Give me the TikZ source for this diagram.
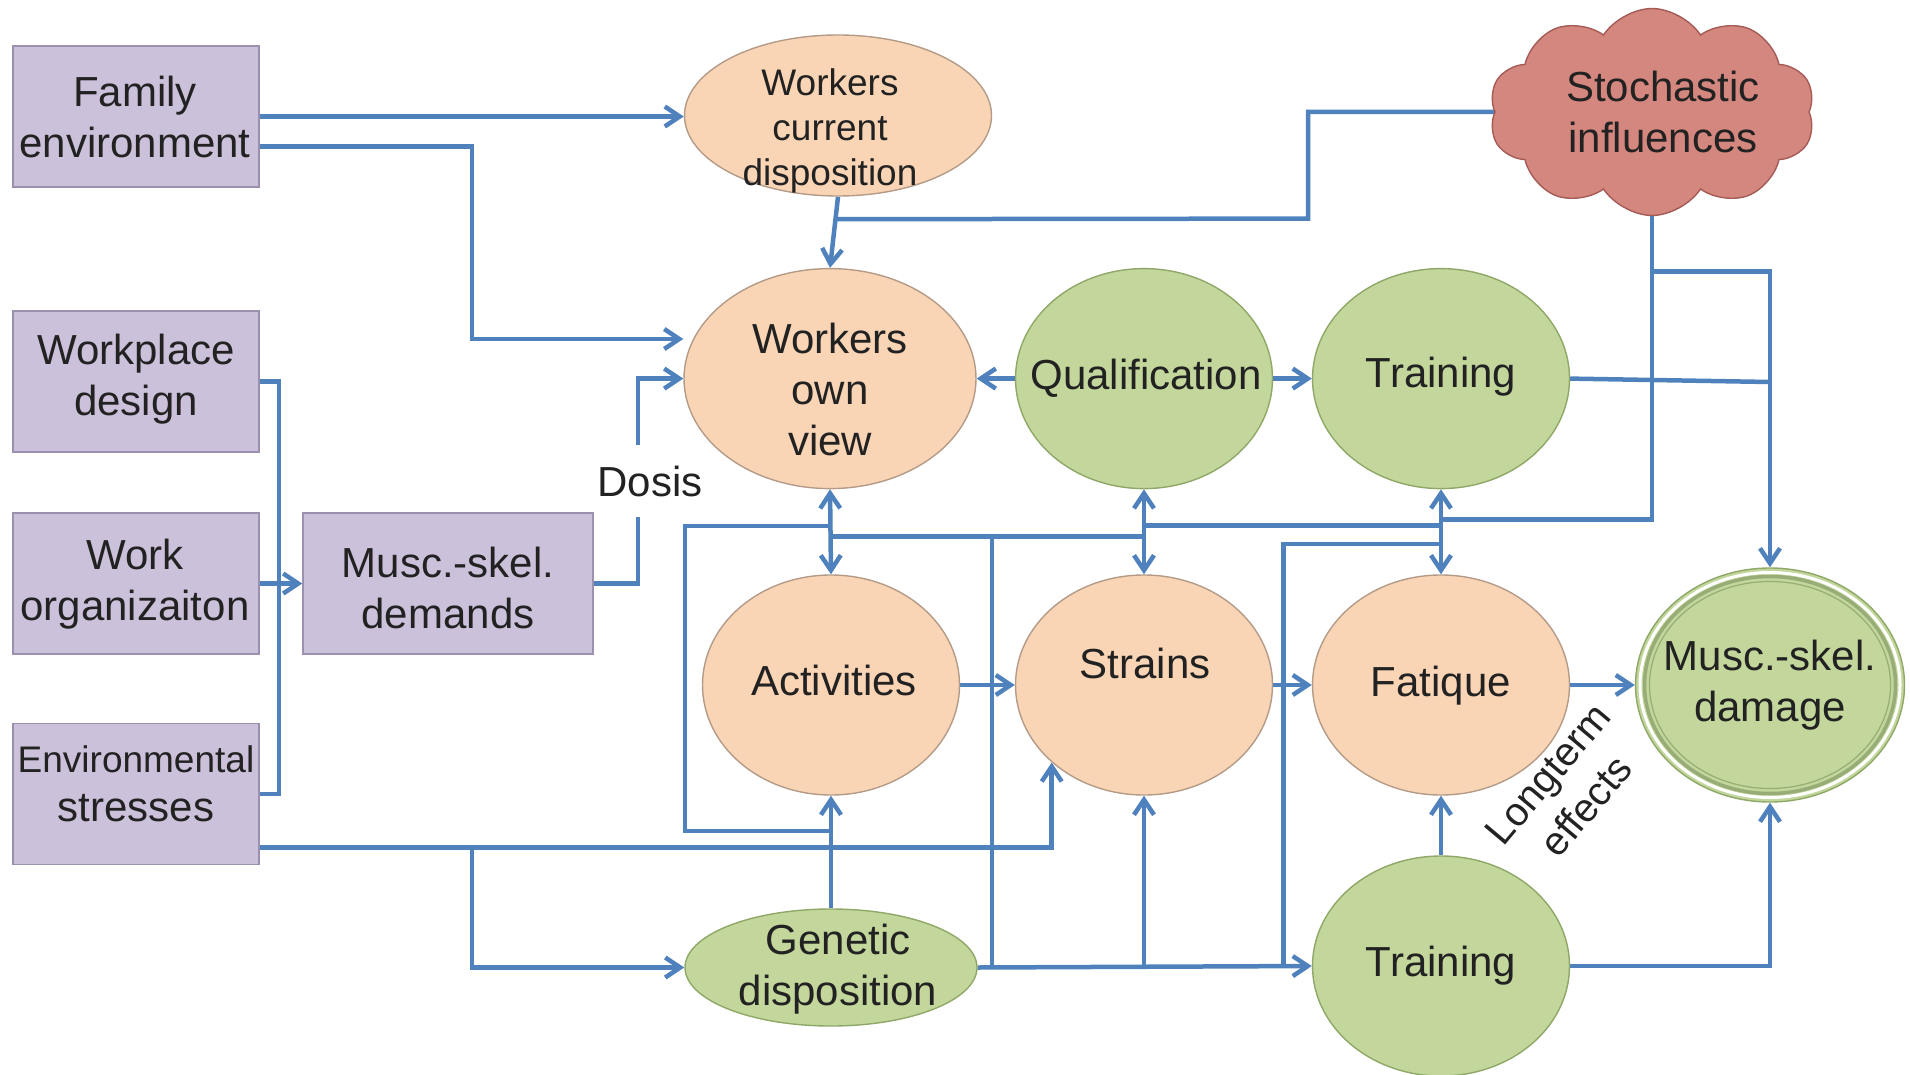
\documentclass[tikz,border=0pt]{standalone}
\usepackage{fontspec}
\setmainfont{Liberation Sans}
\usetikzlibrary{shapes.geometric,shapes.symbols,arrows.meta,calc}
\definecolor{boxfill}{HTML}{CCC1DA}
\definecolor{boxline}{HTML}{9B90AE}
\definecolor{peachfill}{HTML}{F9D5B6}
\definecolor{peachline}{HTML}{B49B87}
\definecolor{grnfill}{HTML}{C3D69B}
\definecolor{grnline}{HTML}{8FA868}
\definecolor{grnring}{HTML}{97AC76}
\definecolor{cloudfill}{HTML}{D4877E}
\definecolor{cloudline}{HTML}{A45B56}
\definecolor{wirec}{HTML}{4F81BD}
\definecolor{txtc}{HTML}{222222}
\pgfdeclarelayer{bg}
\pgfsetlayers{bg,main}
\newcommand\lblfont{\fontsize{42}{51}\selectfont}
\newcommand\lblsmall{\fontsize{37}{45}\selectfont}
\begin{document}
\begin{tikzpicture}[x=1pt,y=-1pt,
  box/.style={draw=boxline, fill=boxfill, line width=1.5pt, minimum width=246pt, minimum height=141pt, inner sep=0pt},
  ell/.style={ellipse, line width=1.4pt, inner sep=0pt},
  peach/.style={ell, draw=peachline, fill=peachfill},
  grn/.style={ell, draw=grnline, fill=grnfill},
  txt/.style={text=txtc, align=center, inner sep=0pt, font=\lblfont},
  txts/.style={txt, font=\lblsmall},
  wire/.style={draw=wirec, line width=4.5pt},
  arr/.style={wire, -{Straight Barb[length=15pt,width=20pt]}},
  darr/.style={wire, {Straight Barb[length=15pt,width=20pt]}-{Straight Barb[length=15pt,width=20pt]}},
]
\useasboundingbox (0,0) rectangle (1910,1075);
\clip (0,0) rectangle (1910,1075);

% input boxes
\node[box] (fam) at (136,116.5) {};
\node[txt] at (135,117) {Family\\environment};
\node[box] (wpd) at (136,381.5) {};
\node[txt] at (136,379) {Workplace\\design};
\node[box] (wor) at (136,583.5) {};
\node[txt] at (135,584) {Work\\organizaiton};
\node[box] (env) at (136,794) {};
\node[txt, font=\fontsize{42}{49}\selectfont] at (136,784) {{\fontsize{37}{49}\selectfont Environmental}\\stresses};
\node[box, minimum width=290pt] (msd) at (448,583.5) {};
\node[txt] at (448,588) {Musc.-skel.\\demands};

% worker state
\node[peach, minimum width=307pt, minimum height=161pt] (wcd) at (838,115.5) {};
\node[txts] at (830,131) {Workers\\current\\disposition};
\node[peach, minimum width=292pt, minimum height=220pt] (wov) at (830,378.6) {};
\node[txt] at (830,389) {Workers\\own\\view};
\node[grn, minimum width=257pt, minimum height=220pt] (qual) at (1144,378.6) {};
\node[txt] at (1146,378) {Qualification};
\node[grn, minimum width=257pt, minimum height=220pt] (tr1) at (1441,378.6) {};
\node[txt] at (1441,377) {Training};

% load chain
\node[peach, minimum width=257pt, minimum height=220pt] (act) at (831,685) {};
\node[txt] at (834,680) {Activities};
\node[peach, minimum width=257pt, minimum height=220pt] (str) at (1144,685) {};
\node[txt] at (1145,663) {Strains};
\node[peach, minimum width=257pt, minimum height=220pt] (fat) at (1441,685) {};
\node[txt] at (1441,686) {Fatique};

% damage (double ring)
\node[grn, minimum width=269pt, minimum height=234pt] (dam) at (1770,685) {};
\draw[white, line width=3pt] (dam.center) ellipse [x radius=130, y radius=112.5];
\draw[grnring, line width=3.5pt] (dam.center) ellipse [x radius=125.5, y radius=108.5];
\draw[grnring, line width=1.2pt] (dam.center) ellipse [x radius=120.5, y radius=103.5];
\node[txt] at (1770,685) {Musc.-skel.\\damage};

% lower row
\node[grn, minimum width=292pt, minimum height=117pt] (gen) at (831,967.5) {};
\node[txt] at (838,969) {Genetic\\disposition};
\node[grn, minimum width=257pt, minimum height=220pt] (tr2) at (1441,966) {};
\node[txt] at (1441,966) {Training};

% random influences
\node[cloud, cloud puffs=10, cloud puff arc=115, aspect=1.55, draw=cloudline, fill=cloudfill, line width=1.4pt, minimum width=326pt, minimum height=207pt, inner sep=0pt] (sto) at (1652,112) {};
\node[txt] at (1663,112) {Stochastic\\influences};

\coordinate (j1) at ($(wcd.south)!0.316!(wov.north)$);

\begin{pgfonlayer}{bg}
  % family environment
  \draw[arr] (fam.east) -- (fam.east -| wcd.west);
  \draw[arr] ([yshift=-30pt]fam.east) -| (472,339) -- (wov.west |- 0,339);
  \draw[arr] (wcd.south) -- (wov.north);
  % stochastic influences
  \draw[wire] (sto.center) -| (1308,218.6) -- (j1);
  \draw[wire] (sto.center) -- (1652,519.3) -- (tr1.south |- 0,519.3);
  \draw[arr] (1652,271.4) -| (dam.north);
  \draw[wire] (tr1.east) -- (dam.north |- 0,382);
  % work demands
  \draw[wire] (wpd.east) -- (279,381.5) |- (env.east);
  \draw[arr] (wor.east) -- (msd.west);
  \draw[arr] (msd.east) -- (638,583.5) |- (wov.west);
  % qualification / training
  \draw[arr] (qual.west) -- (wov.east);
  \draw[arr] (qual.east) -- (tr1.west);
  % vertical couplings
  \draw[darr] (wov.south) -- (act.north);
  \draw[darr] (qual.south) -- (str.north);
  \draw[darr] (tr1.south) -- (fat.north);
  \draw[wire] (qual.south |- 0,525.7) -- (tr1.south |- 0,525.7);
  \draw[wire] (wov.south |- 0,536.7) -- (qual.south |- 0,536.7);
  \draw[wire] (wov.south |- 0,526) -- (685,526) -- (685,831) -- (gen.north |- 0,831);
  \draw[wire] (992,536.7) -- (992,967.5);
  % genetic disposition
  \draw[arr] (gen.north) -- (act.south);
  \draw[arr] (gen.east) -- (tr2.west);
  \draw[arr] (str.south |- gen.east) -- (str.south);
  \draw[wire] (1283.7,966.5) |- (tr1.south |- 0,544);
  % environmental stresses
  \draw[arr] ([yshift=-53.5pt]env.east) -| (str.220.6);
  \draw[arr] (472,847.5) |- (gen.west);
  % main chain
  \draw[arr] (act.east) -- (str.west);
  \draw[arr] (str.east) -- (fat.west);
  \draw[arr] (fat.east) -- (dam.west);
  \draw[arr] (tr2.north) -- (fat.south);
  \draw[arr] (tr2.east) -| (dam.south);
\end{pgfonlayer}

% labels
\node[txt, fill=white, text height=30pt, text depth=0pt, inner ysep=21pt, inner xsep=2pt] (dosis) at (650,481) {Dosis};
\node[txt, font=\fontsize{40}{50}\selectfont, rotate=50] (lte) at (1567,790) {Longterm\\effects};
\end{tikzpicture}
\end{document}
